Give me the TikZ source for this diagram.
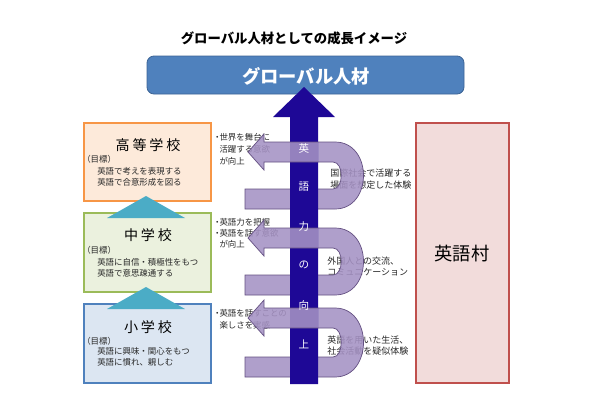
\documentclass[tikz,border=0pt]{standalone}
\usepackage{fontspec}
\setmainfont{Noto Sans CJK JP}
\definecolor{topfill}{RGB}{79,129,189}
\definecolor{topdraw}{RGB}{60,100,150}
\definecolor{shaftc}{RGB}{30,8,150}
\definecolor{bandfill}{RGB}{165,146,196}
\definecolor{banddraw}{RGB}{100,80,130}
\definecolor{orfill}{RGB}{253,234,218}
\definecolor{ordraw}{RGB}{247,150,70}
\definecolor{grfill}{RGB}{235,241,222}
\definecolor{grdraw}{RGB}{155,187,89}
\definecolor{blfill}{RGB}{220,230,242}
\definecolor{bldraw}{RGB}{79,129,189}
\definecolor{pkfill}{RGB}{242,220,219}
\definecolor{pkdraw}{RGB}{192,80,77}
\definecolor{trifill}{RGB}{75,172,198}
\definecolor{txtgray}{RGB}{40,40,40}
\newcommand\myuband[3][]{%
  \path[#1] (245,#3+10) -- (245,#3-10) -- (333,#3-10)
    .. controls (344,#3-10) and (344,#2+10) .. (333,#2+10)
    -- (264,#2+10) -- (264,#2+18) -- (248,#2) -- (264,#2-18) -- (264,#2-10)
    -- (335,#2-10) .. controls (373,#2-10) and (373,#3+10) .. (335,#3+10) -- cycle;}
\newcommand\mytri[2]{%
  \fill[trifill] (#1,#2) -- (#1+39,#2+22) -- (#1-39,#2+22) -- cycle;}
\tikzset{
  schoolbox/.style={draw, line width=0.8pt},
  schooltitle/.style={font=\fontsize{10}{12}\selectfont, text=black},
  goal/.style={font=\fontsize{6}{7}\selectfont, text=txtgray, anchor=west, inner sep=0pt},
  sidelabel/.style={font=\fontsize{6}{7}\selectfont, text=txtgray, anchor=west, inner sep=0pt},
  rightlabel/.style={font=\fontsize{6.4}{7.5}\selectfont, text=txtgray, anchor=west, inner sep=0pt},
  shafttxt/.style={font=\fontsize{7.5}{9}\selectfont, text=white, inner sep=0pt},
  band/.style={fill=bandfill, fill opacity=0.88, draw=banddraw, line width=0.5pt}
}
\newcommand\dotb{\makebox[0.5em][c]{・}}
\begin{document}
\begin{tikzpicture}[x=0.025cm,y=-0.025cm]
\useasboundingbox[fill=white] (0,0) rectangle (600,404);
% title
\node[font=\bfseries\fontsize{9.5}{11}\selectfont] (title) at (294,38) {グローバル人材としての成長イメージ};
% top box
\draw[fill=topfill, draw=topdraw, line width=0.6pt, rounded corners=5pt] (147,56) rectangle (464,94);
\node[font=\bfseries\fontsize{13}{15}\selectfont, text=white] (global) at (306,76) {グローバル人材};
% school boxes
\draw[schoolbox, fill=orfill, draw=ordraw] (84,123) rectangle (211,201);
\draw[schoolbox, fill=grfill, draw=grdraw] (84,213) rectangle (211,292);
\draw[schoolbox, fill=blfill, draw=bldraw] (84,304) rectangle (211,383);
\mytri{146}{196}
\mytri{146}{287}
% pink box
\draw[schoolbox, fill=pkfill, draw=pkdraw] (416,123) rectangle (509,383);
\node[font=\fontsize{13}{15}\selectfont] (village) at (462,254) {英語村};
% high school
\node[schooltitle] (hs) at (148,145) {高\hspace{0.2em}等\hspace{0.2em}学\hspace{0.2em}校};
\node[goal] (hsg) at (82,159) {（目標）};
\node[goal] (hs1) at (97,171) {英語で考えを表現する};
\node[goal] (hs2) at (97,182) {英語で合意形成を図る};
% junior high
\node[schooltitle] (jh) at (148,235) {中\hspace{0.2em}学\hspace{0.2em}校};
\node[goal] (jhg) at (82,250) {（目標）};
\node[goal] (jh1) at (97,262) {英語に自信・積極性をもつ};
\node[goal] (jh2) at (97,273) {英語で意思疎通する};
% elementary
\node[schooltitle] (el) at (148,327) {小\hspace{0.2em}学\hspace{0.2em}校};
\node[goal] (elg) at (82,341) {（目標）};
\node[goal] (el1) at (97,351) {英語に興味・関心をもつ};
\node[goal] (el2) at (97,362) {英語に慣れ、親しむ};
% left labels
\node[sidelabel] (l11) at (215,137) {\dotb 世界を舞台に};
\node[sidelabel] (l12) at (215,149) {\hspace{0.5em}活躍する意欲};
\node[sidelabel] (l13) at (215,161) {\hspace{0.5em}が向上};
\node[sidelabel] (l21) at (215,222) {\dotb 英語力を把握};
\node[sidelabel] (l22) at (215,233) {\dotb 英語を話す意欲};
\node[sidelabel] (l23) at (215,244) {\hspace{0.5em}が向上};
\node[sidelabel] (l31) at (215,313) {\dotb 英語を話すことの};
\node[sidelabel] (l32) at (215,325) {\hspace{0.5em}楽しさを実感};
% right labels
\node[rightlabel] (r11) at (330,173) {国際社会で活躍する};
\node[rightlabel] (r12) at (330,185) {場面を想定した体験};
\node[rightlabel] (r21) at (327,261) {外国人との交流、};
\node[rightlabel] (r22) at (327,272) {コミュニケーション};
\node[rightlabel] (r31) at (327,340) {英語を用いた生活、};
\node[rightlabel] (r32) at (327,351) {社会活動を疑似体験};
% bands (behind shaft)
\myuband[band]{152}{199}
\myuband[band]{238}{285}
\myuband[band]{318}{367}
% shaft arrow
\fill[shaftc] (290,384) -- (290,117) -- (273,117) -- (304,87) -- (335,117) -- (318,117) -- (318,384) -- cycle;
% upper bands over shaft
\begin{scope}
\clip (290,120) rectangle (318,180);
\myuband[band]{152}{199}
\end{scope}
\begin{scope}
\clip (290,215) rectangle (318,262);
\myuband[band]{238}{285}
\end{scope}
\begin{scope}
\clip (290,295) rectangle (318,340);
\myuband[band]{318}{367}
\end{scope}
% shaft text
\node[shafttxt] (s1) at (304,148) {英};
\node[shafttxt] (s2) at (304,187) {語};
\node[shafttxt] (s3) at (304,227) {力};
\node[shafttxt] (s4) at (304,265) {の};
\node[shafttxt] (s5) at (304,305) {向};
\node[shafttxt] (s6) at (304,344) {上};
\end{tikzpicture}
\end{document}
